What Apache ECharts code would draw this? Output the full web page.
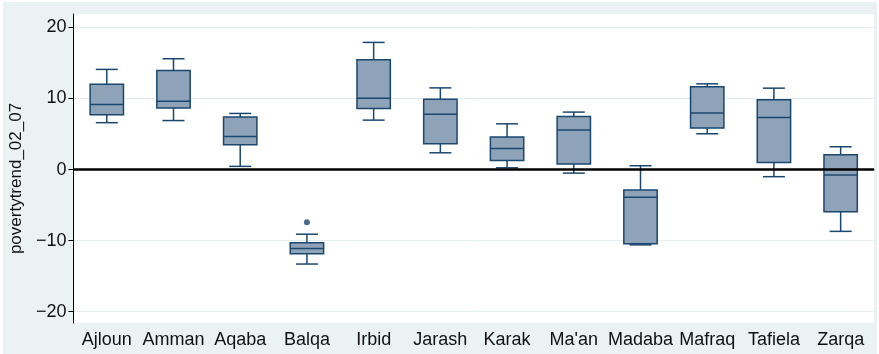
<!DOCTYPE html>
<html>
<head>
<meta charset="utf-8">
<script src="https://cdn.jsdelivr.net/npm/echarts@6/dist/echarts.min.js"></script>
<style>
html,body{margin:0;padding:0;background:#ffffff;}
#c{width:879px;height:354px;}
</style>
</head>
<body>
<div id="c"></div>
<script>
const categories = ['Ajloun','Amman','Aqaba','Balqa','Irbid','Jarash','Karak',"Ma'an",'Madaba','Mafraq','Tafiela','Zarqa'];
const whiskerLow  = [6.6, 6.9, 0.45, -13.3, 6.96, 2.36, 0.25, -0.5, -10.6, 5.04, -1.0, -8.7];
const q1          = [7.7, 8.65, 3.5, -11.85, 8.6, 3.63, 1.29, 0.77, -10.43, 5.84, 1.01, -5.94];
const median      = [9.17, 9.6, 4.67, -11.1, 10.05, 7.8, 2.98, 5.56, -3.91, 7.95, 7.34, -0.77];
const q3          = [12.0, 13.95, 7.4, -10.3, 15.45, 9.9, 4.57, 7.48, -2.88, 11.65, 9.82, 2.08];
const whiskerHigh = [14.1, 15.6, 7.9, -9.1, 17.9, 11.5, 6.44, 8.09, 0.54, 12.07, 11.46, 3.21];
const outliers    = [['Balqa', -7.43]];
const yTicks = [-20, -10, 0, 10, 20];

const boxData = categories.map((c, i) => [i, whiskerLow[i], q1[i], median[i], q3[i], whiskerHigh[i]]);

const navy = '#1a476f';
const fill = '#8fa3b8';

function renderBox(params, api) {
  const idx = api.value(0);
  const pLow = api.coord([idx, api.value(1)]);
  const pQ1 = api.coord([idx, api.value(2)]);
  const pMed = api.coord([idx, api.value(3)]);
  const pQ3 = api.coord([idx, api.value(4)]);
  const pHigh = api.coord([idx, api.value(5)]);
  const band = api.size([1, 0])[0];
  const bw = band * 0.5;
  const cw = band * 0.33;
  const x = pMed[0];
  const ls = {stroke: navy, lineWidth: 1.5, fill: null};
  return {
    type: 'group',
    children: [
      {type: 'line', shape: {x1: x, y1: pQ3[1], x2: x, y2: pHigh[1]}, style: ls},
      {type: 'line', shape: {x1: x, y1: pQ1[1], x2: x, y2: pLow[1]}, style: ls},
      {type: 'line', shape: {x1: x - cw/2, y1: pHigh[1], x2: x + cw/2, y2: pHigh[1]}, style: ls},
      {type: 'line', shape: {x1: x - cw/2, y1: pLow[1], x2: x + cw/2, y2: pLow[1]}, style: ls},
      {type: 'rect', shape: {x: x - bw/2, y: pQ3[1], width: bw, height: pQ1[1] - pQ3[1]}, style: {fill: fill, stroke: navy, lineWidth: 1.5}},
      {type: 'line', shape: {x1: x - bw/2, y1: pMed[1], x2: x + bw/2, y2: pMed[1]}, style: ls}
    ]
  };
}

const chart = echarts.init(document.getElementById('c'));
chart.setOption({
  backgroundColor: '#ffffff',
  animation: false,
  graphic: [{
    type: 'rect', z: -10, silent: true,
    shape: {x: 3, y: 2, width: 874, height: 352},
    style: {fill: '#eaf2f3'}
  }],
  grid: {
    left: 69, right: 5, top: 14, bottom: 31,
    show: true, backgroundColor: '#ffffff', borderWidth: 0
  },
  xAxis: {
    type: 'category',
    data: categories,
    boundaryGap: true,
    axisLine: {show: true, lineStyle: {color: '#000000', width: 1}},
    axisTick: {show: false},
    axisLabel: {color: '#111111', fontSize: 18, fontFamily: 'Liberation Sans, Arial, sans-serif', margin: 8, interval: 0},
    splitLine: {show: false}
  },
  yAxis: {
    type: 'value',
    min: -21.6, max: 21.9,
    name: 'povertytrend_02_07',
    nameLocation: 'middle',
    nameGap: 46,
    nameTextStyle: {color: '#111111', fontSize: 17, fontFamily: 'Liberation Sans, Arial, sans-serif', padding: [0, 20, 0, 0]},
    axisLine: {show: true, lineStyle: {color: '#000000', width: 1}},
    axisTick: {show: true, length: 5, customValues: yTicks, lineStyle: {color: '#000000'}},
    axisLabel: {
      color: '#111111', fontSize: 18, fontFamily: 'Liberation Sans, Arial, sans-serif', margin: 7,
      customValues: yTicks,
      formatter: v => String(v).replace('-', '\u2212')
    },
    splitLine: {show: true, lineStyle: {color: '#e4eef0', width: 1}}
  },
  series: [
    {
      type: 'custom',
      renderItem: renderBox,
      data: boxData,
      encode: {x: 0, y: [1, 2, 3, 4, 5]},
      z: 3,
      markLine: {
        silent: true,
        symbol: 'none',
        label: {show: false},
        lineStyle: {color: '#000000', width: 2.5, type: 'solid'},
        data: [{yAxis: 0}]
      }
    },
    {
      type: 'scatter',
      data: outliers,
      symbol: 'circle',
      symbolSize: 6,
      itemStyle: {color: navy},
      z: 4
    }
  ]
});
</script>
</body>
</html>
